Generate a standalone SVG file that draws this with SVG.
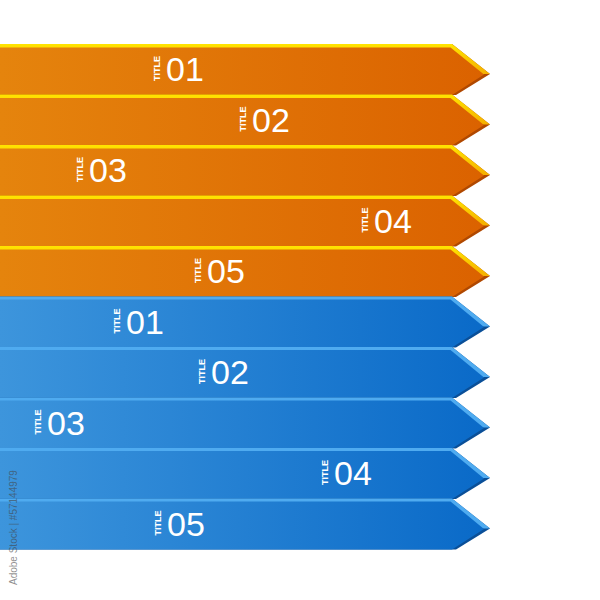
<svg xmlns="http://www.w3.org/2000/svg" xmlns:xlink="http://www.w3.org/1999/xlink" width="600" height="600" viewBox="0 0 600 600">
<style>
.n{font-family:"Liberation Sans",Arial,sans-serif;font-size:34px;fill:#fff}
.t{font-family:"Liberation Sans",Arial,sans-serif;font-size:9px;font-weight:bold;fill:#fff}
.od{fill:#b04800}.oy{fill:url(#oyg)}.of{fill:url(#og)}
.bd{fill:#0a4f98}.by{fill:#4fabf0}.bf{fill:url(#bg)}
.wm{font-family:"Liberation Sans",Arial,sans-serif;font-size:10px;fill:#444;fill-opacity:.6}
</style>
<defs>
<linearGradient id="og" x1="0" y1="0" x2="1" y2="0">
<stop offset="0" stop-color="#e5840d"/><stop offset="1" stop-color="#db6200"/>
</linearGradient>
<linearGradient id="oyg" x1="0" y1="0" x2="0" y2="1">
<stop offset="0" stop-color="#ffe400"/><stop offset="1" stop-color="#f5b000"/>
</linearGradient>
<linearGradient id="bg" x1="0" y1="0" x2="1" y2="0">
<stop offset="0" stop-color="#3d95dc"/><stop offset="1" stop-color="#0a6ac8"/>
</linearGradient>
<g id="oShape">
<polygon class="od" points="0,0 452,0 490,30 456,51 0,51"/>
<polygon class="oy" points="0,0 452,0 490,30 0,30"/>
<polygon class="of" points="0,3.5 450.5,3.5 484,30.5 452,51 0,51"/>
</g>
<g id="bShape">
<polygon class="bd" points="0,0 452,0 490,30 456,51 0,51"/>
<polygon class="by" points="0,0 452,0 490,30 0,30"/>
<polygon class="bf" points="0,3 450.5,3 484,30.5 452,51 0,51"/>
</g>
</defs>
<rect width="600" height="600" fill="#fff"/>
<g id="connectors"/>
<g id="orange01"><use xlink:href="#oShape" transform="translate(0,44)"/><text class="t" transform="translate(160,81) rotate(-90)">TITLE</text><text class="n" x="166" y="81">01</text></g>
<g id="orange02"><use xlink:href="#oShape" transform="translate(0,94.5)"/><text class="t" transform="translate(246,131.5) rotate(-90)">TITLE</text><text class="n" x="252" y="131.5">02</text></g>
<g id="orange03"><use xlink:href="#oShape" transform="translate(0,145)"/><text class="t" transform="translate(83,182) rotate(-90)">TITLE</text><text class="n" x="89" y="182">03</text></g>
<g id="orange04"><use xlink:href="#oShape" transform="translate(0,195.5)"/><text class="t" transform="translate(368,232.5) rotate(-90)">TITLE</text><text class="n" x="374" y="232.5">04</text></g>
<g id="orange05"><use xlink:href="#oShape" transform="translate(0,246)"/><text class="t" transform="translate(201,283) rotate(-90)">TITLE</text><text class="n" x="207" y="283">05</text></g>
<g id="blue01"><use xlink:href="#bShape" transform="translate(0,296.5)"/><text class="t" transform="translate(120,333.5) rotate(-90)">TITLE</text><text class="n" x="126" y="333.5">01</text></g>
<g id="blue02"><use xlink:href="#bShape" transform="translate(0,347)"/><text class="t" transform="translate(205,384) rotate(-90)">TITLE</text><text class="n" x="211" y="384">02</text></g>
<g id="blue03"><use xlink:href="#bShape" transform="translate(0,397.5)"/><text class="t" transform="translate(41,434.5) rotate(-90)">TITLE</text><text class="n" x="47" y="434.5">03</text></g>
<g id="blue04"><use xlink:href="#bShape" transform="translate(0,448)"/><text class="t" transform="translate(328,485) rotate(-90)">TITLE</text><text class="n" x="334" y="485">04</text></g>
<g id="blue05"><use xlink:href="#bShape" transform="translate(0,498.5)"/><text class="t" transform="translate(161,535.5) rotate(-90)">TITLE</text><text class="n" x="167" y="535.5">05</text></g>
<text class="wm" transform="translate(17,585) rotate(-90)">Adobe Stock | #57144979</text>
</svg>
